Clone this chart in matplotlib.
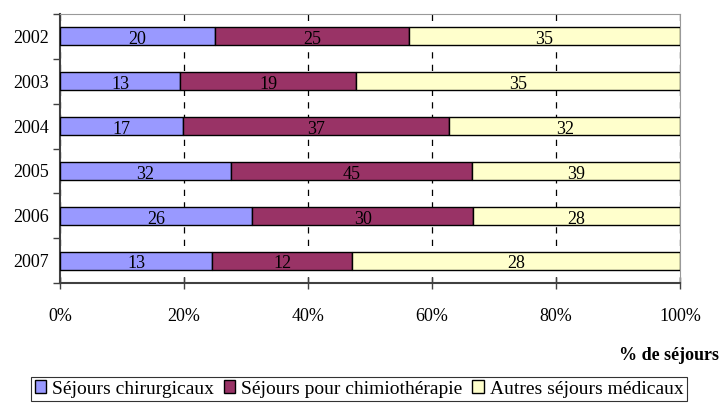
import numpy as np
import matplotlib.pyplot as plt

plt.rcParams['font.family'] = ['Liberation Serif', 'DejaVu Serif']

years = ['2002', '2003', '2004', '2005', '2006', '2007']
chirurgicaux = [20, 13, 17, 32, 26, 13]
chimiotherapie = [25, 19, 37, 45, 30, 12]
autres = [35, 35, 32, 39, 28, 28]
series_names = ['Séjours chirurgicaux', 'Séjours pour chimiothérapie', 'Autres séjours médicaux']
colors = ['#9999FF', '#993366', '#FFFFCC']

data = np.array([chirurgicaux, chimiotherapie, autres], dtype=float)
totals = data.sum(axis=0)
pct = data / totals * 100

fig = plt.figure(figsize=(7.21, 4.07), dpi=100)
ax = fig.add_axes([60 / 721, 1 - 283 / 407, 620 / 721, 269 / 407])

y = np.arange(len(years))
left = np.zeros(len(years))
for k in range(3):
    bars = ax.barh(y, pct[k], left=left, height=0.4, color=colors[k],
                   edgecolor='black', linewidth=1.0, label=series_names[k], zorder=3)
    for i, b in enumerate(bars):
        ax.text(left[i] + pct[k][i] / 2, y[i] + 0.03, f'{int(data[k][i])}',
                ha='center', va='center_baseline', fontsize=13, zorder=4)
    left += pct[k]

ax.set_xlim(0, 100)
ax.set_ylim(len(years) - 0.5, -0.5)

ax.set_xticks([0, 20, 40, 60, 80, 100])
ax.set_xticklabels([f'{v}%' for v in [0, 20, 40, 60, 80, 100]], fontsize=13)
ax.tick_params(axis='x', direction='inout', length=8, width=1, color='#404040', pad=14)

ax.set_yticks(y)
ax.set_yticklabels(years, fontsize=13)
ax.tick_params(axis='y', which='major', length=0, pad=8)
ax.set_yticks(np.arange(-0.5, len(years)), minor=True)
ax.tick_params(axis='y', which='minor', length=5, width=1, color='#404040', direction='out')

ax.grid(axis='x', linestyle=(0, (5, 5)), color='black', linewidth=0.9, zorder=0)

for side in ['top', 'right']:
    ax.spines[side].set_color('#999999')
for side in ['left', 'bottom']:
    ax.spines[side].set_color('#404040')
    ax.spines[side].set_linewidth(1.5)

fig.text(719 / 721, 1 - 355 / 407, '% de séjours', ha='right', va='center',
         fontsize=13, fontweight='bold')

handles, labels = ax.get_legend_handles_labels()
leg = fig.legend(handles, labels, loc='center', ncol=3,
                 bbox_to_anchor=(359 / 721, 1 - 389 / 407), fontsize=14,
                 frameon=True, fancybox=False, edgecolor='black',
                 handlelength=0.6, handleheight=0.6, handletextpad=0.3,
                 columnspacing=0.5, borderpad=0.2, borderaxespad=0)
leg.get_frame().set_linewidth(0.8)

fig.savefig('out.png', dpi=100)
